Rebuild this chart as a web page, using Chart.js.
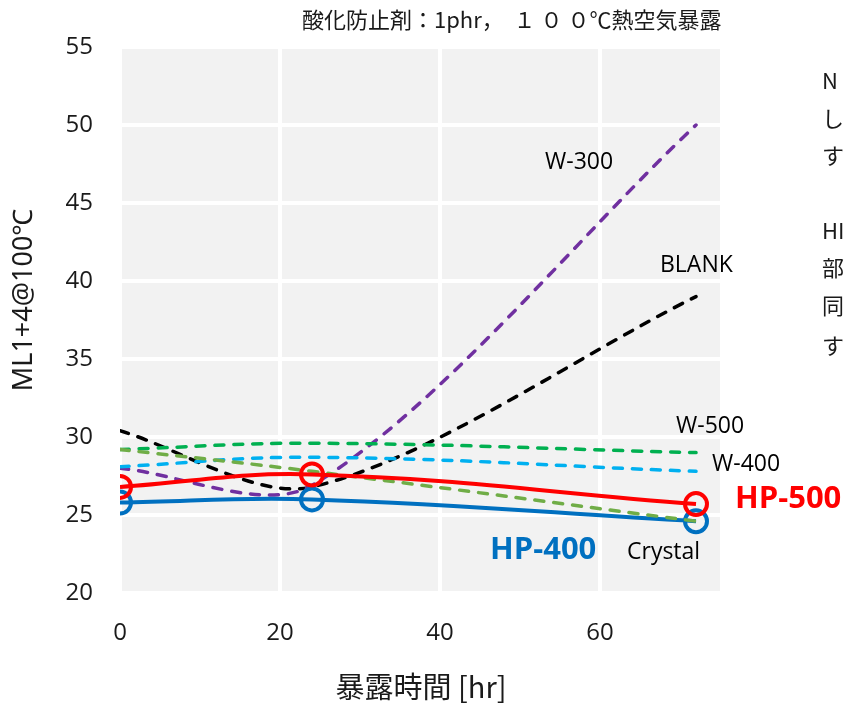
<!DOCTYPE html>
<html>
<head>
<meta charset="utf-8">
<script src="https://cdn.jsdelivr.net/npm/chart.js@4.4.0/dist/chart.umd.min.js"></script>
<style>
  html, body { margin: 0; padding: 0; background: #fff; overflow: hidden; }
  #wrap { position: relative; width: 845px; height: 704px; }
  .side { position: absolute; left: 822px; font-family: "Noto Sans CJK JP", "Noto Sans"; font-size: 22px; color: #1a1a1a; line-height: 1; white-space: nowrap; }
</style>
</head>
<body>
<div id="wrap">
  <canvas id="lineChart" width="845" height="704"></canvas>
  <div class="side" style="top:68px">N</div>
  <div class="side" style="top:106px">し</div>
  <div class="side" style="top:143px">す</div>
  <div class="side" style="top:218px">HI</div>
  <div class="side" style="top:255px">部</div>
  <div class="side" style="top:293px">同</div>
  <div class="side" style="top:333px">す</div>
</div>
<script>
var hours = [0, 24, 72];
var hp500 = [26.8, 27.6, 25.7];
var hp400 = [25.8, 26.0, 24.6];
var crystal = [29.2, 27.8, 24.6];
var w500 = [29.2, 29.6, 29.0];
var w400 = [28.1, 28.7, 27.8];
var w300 = [28.0, 26.9, 50.0];
var blank = [30.4, 26.8, 39.0];

var xTicks = [0, 20, 40, 60];

function pts(values) {
    return hours.map((h, i) => ({ x: h, y: values[i] }));
}

var dashed = [9, 10];

var plotBg = {
    id: "plotBg",
    beforeDraw: (chart) => {
        var a = chart.chartArea;
        var ctx = chart.ctx;
        ctx.save();
        ctx.fillStyle = "#F2F2F2";
        ctx.fillRect(a.left, a.top, a.right - a.left, a.bottom - a.top);
        ctx.restore();
    },
};

var labels = {
    id: "labels",
    afterDraw: (chart) => {
        var ctx = chart.ctx;
        ctx.save();
        ctx.textBaseline = "middle";
        ctx.textAlign = "left";
        ctx.fillStyle = "#1a1a1a";
        ctx.font = '22px "Noto Sans CJK JP", "Noto Sans"';
        ctx.fillText("酸化防止剤：1phr，  １ ０ ０℃熱空気暴露", 302, 20);

        // axis titles
        ctx.textAlign = "center";
        ctx.font = '29px "Noto Sans CJK JP", "Noto Sans"';
        ctx.fillText("暴露時間 [hr]", 421, 687);
        ctx.save();
        ctx.translate(24, 300);
        ctx.rotate(-Math.PI / 2);
        ctx.font = '27px "Noto Sans"';
        ctx.fillText("ML1+4@100℃", 0, 0);
        ctx.restore();

        // series labels
        ctx.textAlign = "left";
        ctx.fillStyle = "#000";
        ctx.font = '23px "Open Sans"';
        ctx.fillText("W-300", 545, 162);
        ctx.fillText("BLANK", 660, 265);
        ctx.fillText("W-500", 676, 426);
        ctx.fillText("W-400", 712, 464);
        ctx.fillText("Crystal", 627, 552);
        ctx.font = 'bold 31px "Open Sans"';
        ctx.fillStyle = "#FF0000";
        ctx.fillText("HP-500", 735, 499);
        ctx.fillStyle = "#0070C0";
        ctx.fillText("HP-400", 490, 550);
        ctx.restore();
    },
};

var ctx = document.getElementById("lineChart").getContext("2d");
new Chart(ctx, {
    type: "line",
    data: {
        datasets: [
            {
                label: "HP-500",
                data: pts(hp500),
                borderColor: "#FF0000",
                borderWidth: 4,
                pointRadius: 11,
                pointBorderWidth: 4,
                pointBackgroundColor: "rgba(0,0,0,0)",
                pointBorderColor: "#FF0000",
                order: 1,
            },
            {
                label: "Crystal",
                data: pts(crystal),
                borderColor: "#70AD47",
                borderWidth: 3.5,
                borderDash: dashed,
                borderCapStyle: "round",
                pointRadius: 0,
                order: 2,
            },
            {
                label: "HP-400",
                data: pts(hp400),
                borderColor: "#0070C0",
                borderWidth: 4,
                pointRadius: 11,
                pointBorderWidth: 4,
                pointBackgroundColor: "rgba(0,0,0,0)",
                pointBorderColor: "#0070C0",
                order: 3,
            },
            {
                label: "W-500",
                data: pts(w500),
                borderColor: "#00B050",
                borderWidth: 3.5,
                borderDash: dashed,
                borderCapStyle: "round",
                pointRadius: 0,
                order: 4,
            },
            {
                label: "W-400",
                data: pts(w400),
                borderColor: "#00B0F0",
                borderWidth: 3.5,
                borderDash: dashed,
                borderCapStyle: "round",
                pointRadius: 0,
                order: 5,
            },
            {
                label: "W-300",
                data: pts(w300),
                borderColor: "#7030A0",
                borderWidth: 3.5,
                borderDash: dashed,
                borderCapStyle: "round",
                pointRadius: 0,
                tension: 0.3,
                order: 6,
            },
            {
                label: "BLANK",
                data: pts(blank),
                borderColor: "#000000",
                borderWidth: 3.5,
                borderDash: dashed,
                borderCapStyle: "round",
                pointRadius: 0,
                tension: 0.3,
                order: 7,
            },
        ],
    },
    options: {
        responsive: false,
        animation: false,
        tension: 0.4,
        layout: { padding: { top: 47, right: 125, left: 0, bottom: 0 } },
        plugins: {
            legend: { display: false },
            tooltip: { enabled: false },
        },
        scales: {
            x: {
                type: "linear",
                min: 0,
                max: 75,
                afterBuildTicks: (scale) => {
                    scale.ticks = xTicks.map((v) => ({ value: v }));
                },
                afterFit: (scale) => {
                    scale.height = 111;
                },
                grid: { color: "#FFFFFF", lineWidth: 4, drawTicks: false },
                border: { display: false },
                ticks: {
                    padding: 26,
                    color: "#1a1a1a",
                    font: { family: "Open Sans", size: 24 },
                },
            },
            y: {
                min: 20,
                max: 55,
                afterFit: (scale) => {
                    scale.width = 120;
                },
                grid: { color: "#FFFFFF", lineWidth: 4, drawTicks: false },
                border: { display: false },
                ticks: {
                    stepSize: 5,
                    padding: 27,
                    color: "#1a1a1a",
                    font: { family: "Open Sans", size: 24 },
                },
            },
        },
    },
    plugins: [plotBg, labels],
});
</script>
</body>
</html>
